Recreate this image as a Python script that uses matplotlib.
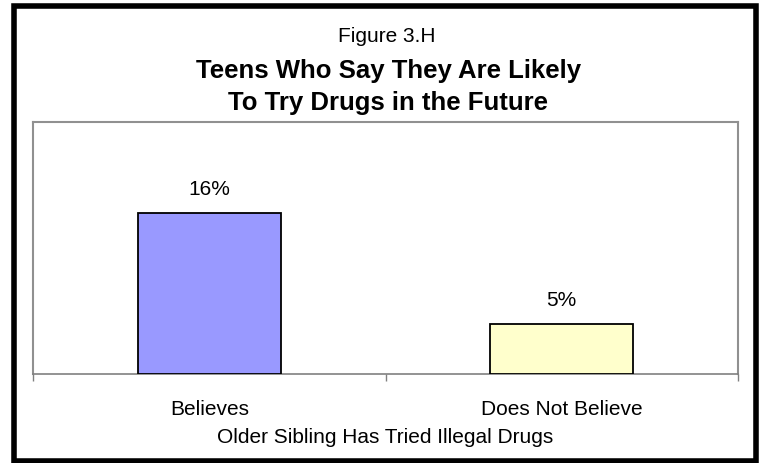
import matplotlib
matplotlib.use('Agg')
import matplotlib.pyplot as plt
from matplotlib.patches import Rectangle

# Chart data
categories = ['Believes', 'Does Not Believe']
percent = [16, 5]
bar_colors = ['#9999FF', '#FFFFCC']

plt.rcParams['font.family'] = ['Liberation Sans', 'DejaVu Sans']

fig = plt.figure(figsize=(7.64, 4.63), dpi=100)
ax = fig.add_axes([0.0432, 0.1922, 0.9228, 0.5443])

x = range(len(categories))
bars = ax.bar(x, percent, width=0.405, color=bar_colors,
              edgecolor='black', linewidth=1.3, zorder=3)

# Value labels above bars
for b, v in zip(bars, percent):
    ax.annotate(f'{v}%', (b.get_x() + b.get_width() / 2, b.get_height()),
                xytext=(0, 13), textcoords='offset points',
                ha='center', va='baseline', fontsize=15)

ax.set_xlim(-0.5, 1.5)
ax.set_ylim(0, 25)
ax.set_yticks([])

# category labels, ticks sit between categories
ax.set_xticks(list(x))
ax.set_xticklabels(categories, fontsize=15)
ax.tick_params(axis='x', which='major', length=0, pad=19)
ax.set_xticks([-0.5, 0.5, 1.5], minor=True)
ax.tick_params(axis='x', which='minor', length=5, width=1, color='#808080',
               direction='out')
ax.set_xlabel('Older Sibling Has Tried Illegal Drugs', fontsize=15, labelpad=6)

for s in ['left', 'right', 'top']:
    ax.spines[s].set_color('#909090')
    ax.spines[s].set_linewidth(1.5)
ax.spines['bottom'].set_color('#808080')
ax.spines['bottom'].set_linewidth(1.2)

# Titles
fig.text(0.506, 1 - 42 / 463, 'Figure 3.H', ha='center', va='baseline', fontsize=15)
fig.text(0.508, 1 - 78 / 463, 'Teens Who Say They Are Likely', ha='center',
         va='baseline', fontsize=18.5, fontweight='bold')
fig.text(0.508, 1 - 110 / 463, 'To Try Drugs in the Future', ha='center',
         va='baseline', fontsize=18.5, fontweight='bold')

# Outer frame around the chart
fig.patches.append(Rectangle((13.5 / 764, 2 / 463), 742.5 / 764, 455 / 463,
                             transform=fig.transFigure, fill=False,
                             edgecolor='black', linewidth=4))

fig.savefig('out.png', dpi=100)
